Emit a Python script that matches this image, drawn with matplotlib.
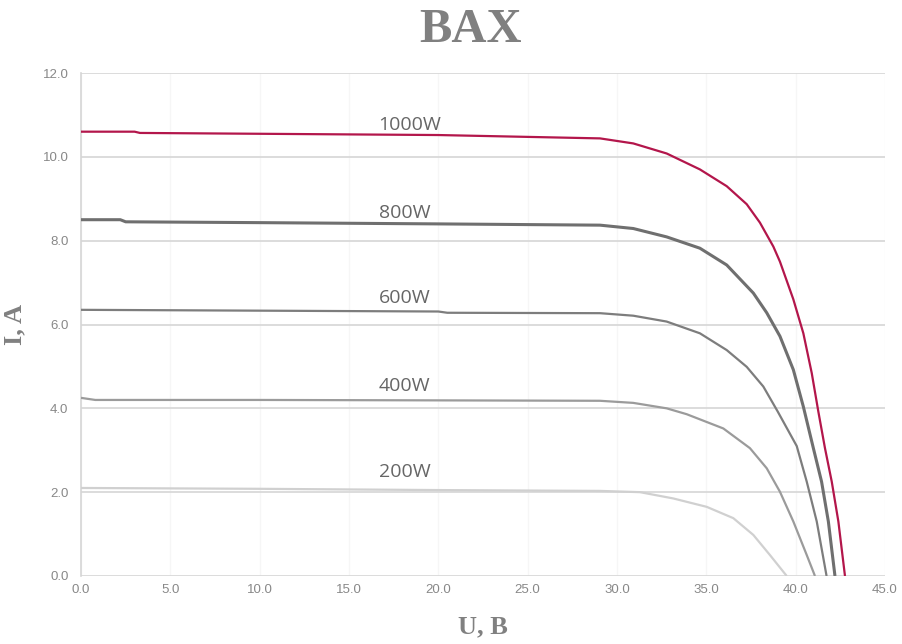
import matplotlib
matplotlib.use("Agg")
import matplotlib.pyplot as plt

# ---- data ----
u_1000 = [0.0, 3.0, 3.3, 10.0, 20.0, 29.05, 30.91, 32.78, 34.64, 36.14, 37.26, 38.0, 38.75,
          39.12, 39.87, 40.43, 40.90, 41.27, 41.64, 42.02, 42.39, 42.76]
i_1000 = [10.60, 10.60, 10.57, 10.55, 10.52, 10.44, 10.32, 10.08, 9.70, 9.30, 8.87, 8.43, 7.86,
          7.50, 6.60, 5.79, 4.84, 3.92, 3.05, 2.25, 1.30, 0.0]

u_800 = [0.0, 2.2, 2.5, 10.0, 20.0, 29.05, 30.91, 32.78, 34.64, 36.14, 37.63, 38.38, 39.12,
         39.87, 40.43, 40.99, 41.45, 41.83, 42.2]
i_800 = [8.50, 8.50, 8.45, 8.43, 8.40, 8.37, 8.29, 8.09, 7.82, 7.42, 6.75, 6.28, 5.72,
         4.92, 4.04, 3.05, 2.25, 1.30, 0.0]

u_600 = [0.0, 10.0, 20.0, 20.5, 29.05, 30.91, 32.78, 34.64, 36.14, 37.26, 38.19, 39.0,
         40.06, 40.62, 41.18, 41.73]
i_600 = [6.35, 6.33, 6.31, 6.28, 6.27, 6.21, 6.07, 5.79, 5.39, 4.99, 4.52, 3.92,
         3.10, 2.25, 1.30, 0.0]

u_400 = [0.0, 0.8, 10.0, 20.0, 29.05, 30.91, 32.78, 33.9, 35.95, 37.44, 38.38, 39.12,
         39.87, 40.62, 41.08]
i_400 = [4.25, 4.20, 4.20, 4.19, 4.18, 4.13, 4.00, 3.86, 3.52, 3.05, 2.57, 2.01,
         1.30, 0.50, 0.0]

u_200 = [0.0, 10.0, 20.0, 29.05, 31.29, 33.15, 35.02, 36.51, 37.63, 38.56, 39.50]
i_200 = [2.10, 2.08, 2.05, 2.03, 2.00, 1.85, 1.65, 1.38, 0.98, 0.50, 0.0]

series_names = ["1000W", "800W", "600W", "400W", "200W"]
label_x = [18.4, 18.1, 18.1, 18.1, 18.1]
label_y = [10.76, 8.66, 6.63, 4.53, 2.48]

x_ticks = [0, 5, 10, 15, 20, 25, 30, 35, 40, 45]
y_ticks = [0, 2, 4, 6, 8, 10, 12]

# ---- plot ----
fig = plt.figure(figsize=(9.03, 6.44), dpi=100)
ax = fig.add_axes([81/903, 68/644, (885-81)/903, (576-73)/644])

colors = ["#b3164b", "#6f6f6f", "#7d7d7d", "#9b9b9b", "#d0d0d0"]
widths = [1.6, 2.2, 1.6, 1.6, 1.6]
series = [(u_1000, i_1000), (u_800, i_800), (u_600, i_600), (u_400, i_400), (u_200, i_200)]

for (u, i), c, w in zip(series, colors, widths):
    ax.plot(u, i, color=c, lw=w, solid_capstyle="butt", solid_joinstyle="round", zorder=3)

for name, lx, ly in zip(series_names, label_x, label_y):
    ax.text(lx, ly, name, ha="center", va="center", fontsize=14, color="#666666",
            family="Open Sans", zorder=4)

ax.set_xlim(0, 45)
ax.set_ylim(0, 12)
ax.set_xticks(x_ticks)
ax.set_yticks(y_ticks)
ax.set_xticklabels([f"{v:.1f}" for v in x_ticks])
ax.set_yticklabels([f"{v:.1f}" for v in y_ticks])
ax.tick_params(axis="both", length=0, labelsize=9.5, labelcolor="#888888")
ax.tick_params(axis="x", pad=6)
ax.tick_params(axis="y", pad=9)
for lab in ax.get_xticklabels() + ax.get_yticklabels():
    lab.set_family("Liberation Sans")

ax.grid(axis="y", color="#d9d9d9", lw=1.3, zorder=1)
ax.grid(axis="x", color="#f6f6f6", lw=1.0, zorder=0)
for s in ["top", "right", "bottom"]:
    ax.spines[s].set_visible(False)
ax.spines["left"].set_color("#d6d6d6")
ax.spines["left"].set_linewidth(1.2)

ax.set_xlabel("U, B", family="Liberation Serif", fontweight="bold", fontsize=19,
              color="#808080", labelpad=14)
ax.set_ylabel("I, A", family="Liberation Serif", fontweight="bold", fontsize=19,
              color="#808080", labelpad=12)
fig.text(471/903, 1 - 30/644, "BAX", ha="center", va="center", family="Liberation Serif",
         fontweight="bold", fontsize=35, color="#808080")

fig.savefig("out.png", dpi=100)
